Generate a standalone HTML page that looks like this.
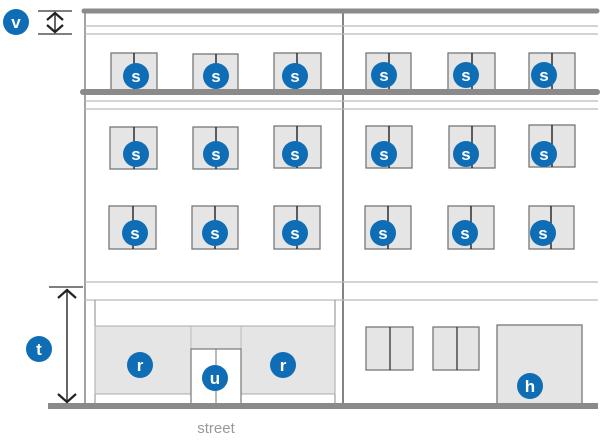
<!DOCTYPE html>
<html><head><meta charset="utf-8"><style>
html,body{margin:0;padding:0;background:#fff;}
svg{display:block;}
text{font-family:"Liberation Sans",sans-serif;}
.b{fill:#0f6db5;}
.bt{fill:#fff;font-weight:bold;font-size:17px;text-anchor:middle;}
.w{fill:#e5e5e5;stroke:#777;stroke-width:1.3;}
</style></head><body>
<svg width="600" height="443" viewBox="0 0 600 443" xmlns="http://www.w3.org/2000/svg">
<!-- structural lines -->
<line x1="85" y1="11" x2="85" y2="406" stroke="#666" stroke-width="1.2"/>
<line x1="343" y1="11" x2="343" y2="406" stroke="#333" stroke-width="1.2"/>
<g stroke="#bbb" stroke-width="1.2">
<line x1="85" y1="26" x2="598" y2="26"/><line x1="85" y1="34" x2="598" y2="34"/>
<line x1="85" y1="101" x2="598" y2="101"/><line x1="85" y1="109" x2="598" y2="109"/>
<line x1="85" y1="282" x2="598" y2="282"/><line x1="85" y1="300" x2="598" y2="300"/>
</g>
<!-- windows -->
<g id="win">
<rect class="w" x="111" y="53" width="46" height="39"/>
<rect class="w" x="193" y="54" width="45" height="38"/>
<rect class="w" x="274" y="53" width="47" height="39"/>
<rect class="w" x="366" y="53" width="45" height="39"/>
<rect class="w" x="448" y="53" width="47" height="39"/>
<rect class="w" x="529" y="53" width="46" height="39"/>
<rect class="w" x="110" y="127" width="47" height="42"/>
<rect class="w" x="193" y="127" width="45" height="42"/>
<rect class="w" x="274" y="126" width="47" height="42"/>
<rect class="w" x="366" y="126" width="46" height="42"/>
<rect class="w" x="449" y="126" width="46" height="42"/>
<rect class="w" x="529" y="125" width="46" height="42"/>
<rect class="w" x="109" y="206" width="47" height="43"/>
<rect class="w" x="192" y="206" width="46" height="43"/>
<rect class="w" x="274" y="206" width="46" height="43"/>
<rect class="w" x="365" y="206" width="46" height="43"/>
<rect class="w" x="448" y="206" width="46" height="43"/>
<rect class="w" x="529" y="206" width="45" height="43"/>
</g>
<g stroke="#222" stroke-width="1.4">
<line x1="134" y1="53" x2="134" y2="92"/><line x1="216" y1="54" x2="216" y2="92"/><line x1="297" y1="53" x2="297" y2="92"/>
<line x1="389" y1="53" x2="389" y2="92"/><line x1="472" y1="53" x2="472" y2="92"/><line x1="552" y1="53" x2="552" y2="92"/>
<line x1="134" y1="127" x2="134" y2="169"/><line x1="216" y1="127" x2="216" y2="169"/><line x1="297" y1="126" x2="297" y2="168"/>
<line x1="389" y1="126" x2="389" y2="168"/><line x1="472" y1="126" x2="472" y2="168"/><line x1="552" y1="125" x2="552" y2="167"/>
<line x1="133" y1="206" x2="133" y2="249"/><line x1="215" y1="206" x2="215" y2="249"/><line x1="297" y1="206" x2="297" y2="249"/>
<line x1="388" y1="206" x2="388" y2="249"/><line x1="471" y1="206" x2="471" y2="249"/><line x1="551" y1="206" x2="551" y2="249"/>
</g>
<!-- thick bars -->
<line x1="84" y1="11" x2="597" y2="11" stroke="#8a8a8a" stroke-width="5" stroke-linecap="round"/>
<line x1="83" y1="92" x2="597" y2="92" stroke="#8a8a8a" stroke-width="6" stroke-linecap="round"/>
<!-- storefront -->
<line x1="95" y1="300" x2="95" y2="406" stroke="#888" stroke-width="1"/>
<line x1="335" y1="300" x2="335" y2="406" stroke="#888" stroke-width="1"/>
<rect x="95" y="326" width="240" height="68" fill="#e5e5e5" stroke="#aaa" stroke-width="1"/>
<line x1="191" y1="326" x2="191" y2="349" stroke="#bbb"/><line x1="241" y1="326" x2="241" y2="349" stroke="#bbb"/>
<rect x="191" y="349" width="50" height="57" fill="#fff" stroke="#777" stroke-width="1.2"/>
<line x1="216" y1="349" x2="216" y2="406" stroke="#777" stroke-width="1"/>
<rect class="w" x="366" y="327" width="47" height="43"/>
<line x1="390" y1="327" x2="390" y2="370" stroke="#333" stroke-width="1.3"/>
<rect class="w" x="433" y="327" width="46" height="43"/>
<line x1="457" y1="327" x2="457" y2="370" stroke="#333" stroke-width="1.3"/>
<rect class="w" x="497" y="325" width="85" height="80"/>
<!-- ground -->
<rect x="48" y="403" width="550" height="6" fill="#8a8a8a"/>
<text x="216" y="433" font-size="15" fill="#999" text-anchor="middle">street</text>
<!-- dimension t -->
<line x1="49" y1="287" x2="83" y2="287" stroke="#333" stroke-width="1.3"/>
<line x1="67" y1="289" x2="67" y2="402" stroke="#333" stroke-width="1.5"/>
<polyline points="58,298 67,290 76,298" fill="none" stroke="#222" stroke-width="2.2"/>
<polyline points="58,394 67,402 76,394" fill="none" stroke="#222" stroke-width="2.2"/>
<!-- dimension v -->
<line x1="38" y1="11" x2="72" y2="11" stroke="#333" stroke-width="1.3"/>
<line x1="38" y1="34" x2="72" y2="34" stroke="#333" stroke-width="1.3"/>
<line x1="55" y1="13" x2="55" y2="32" stroke="#333" stroke-width="1.5"/>
<polyline points="47,20 55,13 63,20" fill="none" stroke="#222" stroke-width="2.2"/>
<polyline points="47,25 55,32 63,25" fill="none" stroke="#222" stroke-width="2.2"/>
<!-- badges -->
<g>
<circle class="b" cx="136" cy="76" r="13"/><text class="bt" x="136" y="82">s</text>
<circle class="b" cx="216" cy="76" r="13"/><text class="bt" x="216" y="82">s</text>
<circle class="b" cx="295" cy="76" r="13"/><text class="bt" x="295" y="82">s</text>
<circle class="b" cx="384" cy="75" r="13"/><text class="bt" x="384" y="81">s</text>
<circle class="b" cx="466" cy="75" r="13"/><text class="bt" x="466" y="81">s</text>
<circle class="b" cx="544" cy="75" r="13"/><text class="bt" x="544" y="81">s</text>
<circle class="b" cx="136" cy="154" r="13"/><text class="bt" x="136" y="160">s</text>
<circle class="b" cx="216" cy="154" r="13"/><text class="bt" x="216" y="160">s</text>
<circle class="b" cx="295" cy="154" r="13"/><text class="bt" x="295" y="160">s</text>
<circle class="b" cx="384" cy="154" r="13"/><text class="bt" x="384" y="160">s</text>
<circle class="b" cx="466" cy="154" r="13"/><text class="bt" x="466" y="160">s</text>
<circle class="b" cx="544" cy="154" r="13"/><text class="bt" x="544" y="160">s</text>
<circle class="b" cx="135" cy="233" r="13"/><text class="bt" x="135" y="239">s</text>
<circle class="b" cx="215" cy="233" r="13"/><text class="bt" x="215" y="239">s</text>
<circle class="b" cx="295" cy="233" r="13"/><text class="bt" x="295" y="239">s</text>
<circle class="b" cx="383" cy="233" r="13"/><text class="bt" x="383" y="239">s</text>
<circle class="b" cx="465" cy="233" r="13"/><text class="bt" x="465" y="239">s</text>
<circle class="b" cx="543" cy="233" r="13"/><text class="bt" x="543" y="239">s</text>
<circle class="b" cx="140" cy="365" r="13"/><text class="bt" x="140" y="371">r</text>
<circle class="b" cx="283" cy="365" r="13"/><text class="bt" x="283" y="371">r</text>
<circle class="b" cx="215" cy="378" r="13"/><text class="bt" x="215" y="384">u</text>
<circle class="b" cx="530" cy="386" r="13"/><text class="bt" x="530" y="392">h</text>
<circle class="b" cx="39" cy="349" r="13"/><text class="bt" x="39" y="355">t</text>
<circle class="b" cx="16" cy="22" r="13"/><text class="bt" x="16" y="28">v</text>
</g>
</svg>
</body></html>
